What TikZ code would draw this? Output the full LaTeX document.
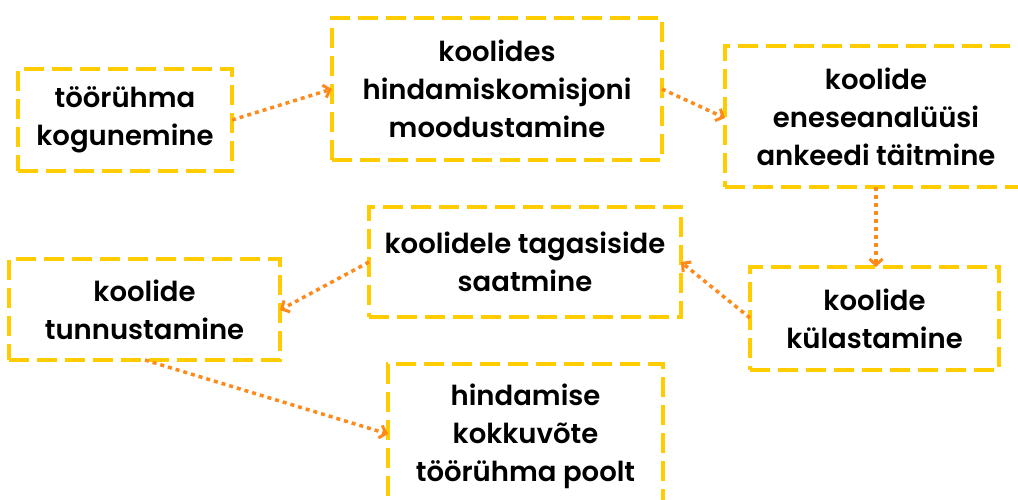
\documentclass[tikz,border=0pt]{standalone}
\usepackage{fontspec}
\setmainfont{Poppins}[BoldFont={Poppins SemiBold}]
\usetikzlibrary{arrows.meta}
\definecolor{boxy}{HTML}{FFCC00}
\definecolor{arro}{HTML}{FF8A1A}
\begin{document}
\begin{tikzpicture}[x=1pt,y=-1pt,
  txt/.style={align=center,inner sep=0pt,font=\bfseries\fontsize{27.5}{38}\selectfont,text=black},
  box/.style={txt,draw=boxy,line width=4pt,dash pattern=on 20pt off 8pt,rectangle},
  conn/.style={draw=arro,line width=3.5pt,dash pattern=on 4pt off 4pt,
    -{Straight Barb[length=6pt,width=13pt,line width=3pt]}}]
\useasboundingbox (0,0) rectangle (1018,499);
\clip (0,0) rectangle (1018,499);
\node[box,minimum width=214pt,minimum height=102pt] (a) at (125,120) {töörühma\\kogunemine};
\node[box,minimum width=330pt,minimum height=142pt] (b) at (497,89) {koolides\\hindamiskomisjoni\\moodustamine};
\node[box,minimum width=310pt,minimum height=141pt] (c) at (880,116.5) {};
\node[txt] (ct) at (876,116.5) {koolide\\eneseanalüüsi\\ankeedi täitmine};
\node[box,minimum width=249pt,minimum height=103pt] (d) at (874.5,318.5) {koolide\\külastamine};
\node[box,minimum width=312pt,minimum height=110pt] (e) at (525,262) {koolidele tagasiside\\saatmine};
\node[box,minimum width=271pt,minimum height=101pt] (f) at (144.5,309.5) {koolide\\tunnustamine};
\node[box,minimum width=275pt,minimum height=150pt] (g) at (525.5,439) {};
\node[txt] (gt) at (525.5,436) {hindamise\\kokkuvõte\\töörühma poolt};
\coordinate (a1) at (232,120);
\coordinate (b1) at (332,89);
\coordinate (b2) at (662,89);
\coordinate (c1) at (725,118);
\coordinate (c2) at (876,187);
\coordinate (d1) at (876,267);
\coordinate (d2) at (750,318);
\coordinate (e1) at (681,262);
\coordinate (e2) at (369,262);
\coordinate (f1) at (280,310);
\coordinate (f2) at (145,360);
\coordinate (g1) at (388,434);
\draw[conn] (a1) -- (b1);
\draw[conn] (b2) -- (c1);
\draw[conn] (c2) -- (d1);
\draw[conn] (d2) -- (e1);
\draw[conn] (e2) -- (f1);
\draw[conn] (f2) -- (g1);
\end{tikzpicture}
\end{document}
